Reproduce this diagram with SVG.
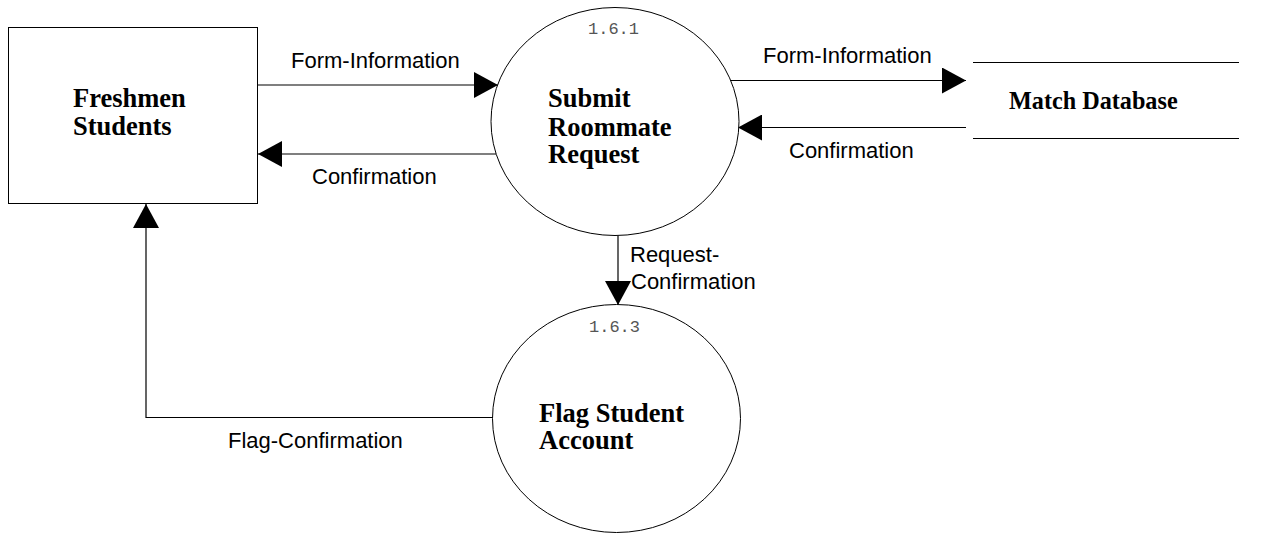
<svg xmlns="http://www.w3.org/2000/svg" width="1271" height="533" viewBox="0 0 1271 533">
<style>
.shape{fill:#fff;stroke:#000;stroke-width:1}
.ln{fill:none;stroke:#000;stroke-width:1.2}
.lbl{font-family:"Liberation Sans",Arial,sans-serif;font-size:22px;fill:#000}
.nm{font-family:"Liberation Serif","Times New Roman",serif;font-size:26.5px;font-weight:bold;fill:#000}
.num{font-family:"Liberation Mono","Courier New",monospace;font-size:17px;fill:#555}
</style>
<defs>
<marker id="arr" markerUnits="userSpaceOnUse" markerWidth="24" markerHeight="26" refX="24" refY="13" orient="auto" viewBox="0 0 24 26">
<path d="M0,0 L24,13 L0,26 z" fill="#000"/>
</marker>
</defs>
<rect width="1271" height="533" fill="#fff"/>
<g id="connectors">
<path class="ln" d="M258,85 H498" marker-end="url(#arr)"/>
<path class="ln" d="M496,154 H258" marker-end="url(#arr)"/>
<path class="ln" d="M730,80.5 H966" marker-end="url(#arr)"/>
<path class="ln" d="M966,127.5 H738" marker-end="url(#arr)"/>
<path class="ln" d="M618,235.5 V305" marker-end="url(#arr)"/>
<path class="ln" d="M493,417.5 H146 V204" marker-end="url(#arr)"/>
<text class="lbl" x="291" y="68">Form-Information</text>
<text class="lbl" x="312" y="184">Confirmation</text>
<text class="lbl" x="763" y="63">Form-Information</text>
<text class="lbl" x="789" y="158">Confirmation</text>
<text class="lbl" x="630" y="262">Request-</text>
<text class="lbl" x="631" y="289">Confirmation</text>
<text class="lbl" x="228" y="448">Flag-Confirmation</text>
</g>
<g id="freshmen">
<rect class="shape" x="8.5" y="27.5" width="249" height="176"/>
<text class="nm" x="73" y="107">Freshmen</text>
<text class="nm" x="73" y="135">Students</text>
</g>
<g id="submit">
<ellipse class="shape" cx="615" cy="121.5" rx="124" ry="114"/>
<text class="num" x="588" y="34">1.6.1</text>
<text class="nm" x="548" y="107">Submit</text>
<text class="nm" x="548" y="135.5">Roommate</text>
<text class="nm" x="548" y="162.5">Request</text>
</g>
<g id="flag">
<ellipse class="shape" cx="616.5" cy="418.5" rx="124" ry="114"/>
<text class="num" x="589" y="332">1.6.3</text>
<text class="nm" x="539" y="422">Flag Student</text>
<text class="nm" x="539" y="449">Account</text>
</g>
<g id="matchdb">
<line class="ln" x1="973" y1="62.5" x2="1239" y2="62.5"/>
<line class="ln" x1="973" y1="138.5" x2="1239" y2="138.5"/>
<text class="nm" x="1009" y="109" style="font-size:24.2px">Match Database</text>
</g>
</svg>
